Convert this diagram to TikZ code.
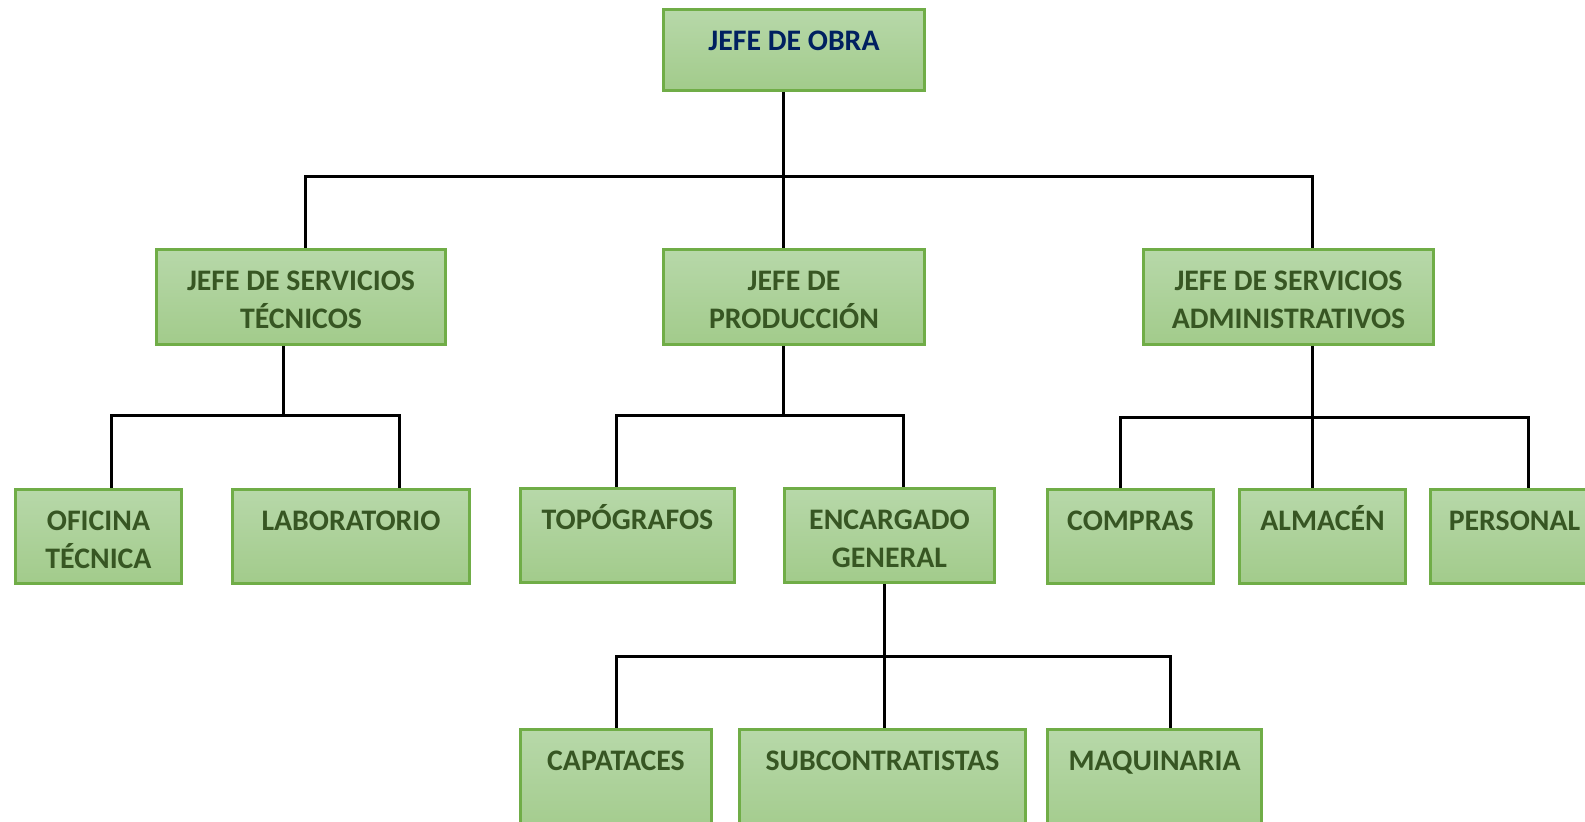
\documentclass[tikz,border=0pt]{standalone}
\usepackage{fontspec}
\setmainfont{Carlito}
\usepackage{tikz}
\usetikzlibrary{positioning}

\definecolor{boxtop}{HTML}{B7D8A9}
\definecolor{boxbottom}{HTML}{A2CB8B}
\definecolor{boxline}{HTML}{70AD47}
\definecolor{textgreen}{HTML}{375623}
\definecolor{textblue}{HTML}{002060}

\tikzset{
  orgbox/.style 2 args={draw=boxline, line width=1.6pt, top color=boxtop, bottom color=boxbottom,
    minimum width={(#1-3.2)*0.5pt}, minimum height={(#2-3.2)*0.5pt}, inner sep=0pt},
  orgtext/.style={anchor=north, inner sep=0pt, outer sep=0pt, align=center, text=textgreen,
    font=\fontsize{14.9}{19}\selectfont\bfseries},
  link/.style={draw=black, line width=1.5pt, line join=miter}
}

\begin{document}
\begin{tikzpicture}[x=0.5pt,y=-0.5pt]
    \clip (0,0) rectangle (1585,822);

    % boxes
    \node[orgbox={264}{84}] (obra) at (794,50) {};
    \node[orgbox={292}{98}] (tec) at (301,297) {};
    \node[orgbox={264}{98}] (prod) at (794,297) {};
    \node[orgbox={293}{98}] (adm) at (1288.5,297) {};

    \node[orgbox={169}{97}] (ofi) at (98.5,536.5) {};
    \node[orgbox={240}{97}] (lab) at (351,536.5) {};
    \node[orgbox={217}{97}] (topo) at (627.5,535.5) {};
    \node[orgbox={213}{97}] (enc) at (889.5,535.5) {};
    \node[orgbox={169}{97}] (comp) at (1130.5,536.5) {};
    \node[orgbox={169}{97}] (alm) at (1322.5,536.5) {};
    \node[orgbox={171}{97}] (pers) at (1514.5,536.5) {};

    \node[orgbox={194}{112}] (cap) at (616,784) {};
    \node[orgbox={289}{112}] (sub) at (882.5,784) {};
    \node[orgbox={217}{112}] (maq) at (1154.5,784) {};

    % texts
    \node[orgtext, text=textblue] (obra-t) at ([yshift=-7.75pt]obra.north) {\strut JEFE DE OBRA};
    \node[orgtext] (tec-t) at ([yshift=-7.75pt]tec.north) {\strut JEFE DE SERVICIOS\\TÉCNICOS};
    \node[orgtext] (prod-t) at ([yshift=-7.75pt]prod.north) {\strut JEFE DE\\PRODUCCIÓN};
    \node[orgtext] (adm-t) at ([yshift=-7.75pt]adm.north) {\strut JEFE DE SERVICIOS\\ADMINISTRATIVOS};
    \node[orgtext] (ofi-t) at ([yshift=-7.75pt]ofi.north) {\strut OFICINA\\TÉCNICA};
    \node[orgtext] (lab-t) at ([yshift=-7.75pt]lab.north) {\strut LABORATORIO};
    \node[orgtext] (topo-t) at ([yshift=-7.75pt]topo.north) {\strut TOPÓGRAFOS};
    \node[orgtext] (enc-t) at ([yshift=-7.75pt]enc.north) {\strut ENCARGADO\\GENERAL};
    \node[orgtext] (comp-t) at ([yshift=-7.75pt]comp.north) {\strut COMPRAS};
    \node[orgtext] (alm-t) at ([yshift=-7.75pt]alm.north) {\strut ALMACÉN};
    \node[orgtext] (pers-t) at ([yshift=-7.75pt]pers.north) {\strut PERSONAL};
    \node[orgtext] (cap-t) at ([yshift=-7.75pt]cap.north) {\strut CAPATACES};
    \node[orgtext] (sub-t) at ([yshift=-7.75pt]sub.north) {\strut SUBCONTRATISTAS};
    \node[orgtext] (maq-t) at ([yshift=-7.75pt]maq.north) {\strut MAQUINARIA};

    % bus points
    \coordinate (top-l) at (305,177);
    \coordinate (top-m) at (783,177);
    \coordinate (top-r) at (1312,177);
    \coordinate (tec-m) at (283,416);
    \coordinate (tec-l) at (111,416);
    \coordinate (tec-r) at (399,416);
    \coordinate (prod-m) at (783,415.5);
    \coordinate (prod-l) at (616,415.5);
    \coordinate (prod-r) at (903,415.5);
    \coordinate (adm-m) at (1312,417.5);
    \coordinate (adm-l) at (1120,417.5);
    \coordinate (adm-r) at (1528,417.5);
    \coordinate (enc-m) at (884,657);
    \coordinate (enc-l) at (616,657);
    \coordinate (enc-r) at (1170,657);

    % connectors
    \draw[link] (obra.south -| top-m) -- (prod.north -| top-m);
    \draw[link] (tec.north -| top-l) -- (top-l) -- (top-r) -- (adm.north -| top-r);

    \draw[link] (tec.south -| tec-m) -- (tec-m);
    \draw[link] (ofi.north -| tec-l) -- (tec-l) -- (tec-r) -- (lab.north -| tec-r);

    \draw[link] (prod.south -| prod-m) -- (prod-m);
    \draw[link] (topo.north -| prod-l) -- (prod-l) -- (prod-r) -- (enc.north -| prod-r);

    \draw[link] (adm.south -| adm-m) -- (alm.north -| adm-m);
    \draw[link] (comp.north -| adm-l) -- (adm-l) -- (adm-r) -- (pers.north -| adm-r);

    \draw[link] (enc.south -| enc-m) -- (sub.north -| enc-m);
    \draw[link] (cap.north -| enc-l) -- (enc-l) -- (enc-r) -- (maq.north -| enc-r);
\end{tikzpicture}
\end{document}
